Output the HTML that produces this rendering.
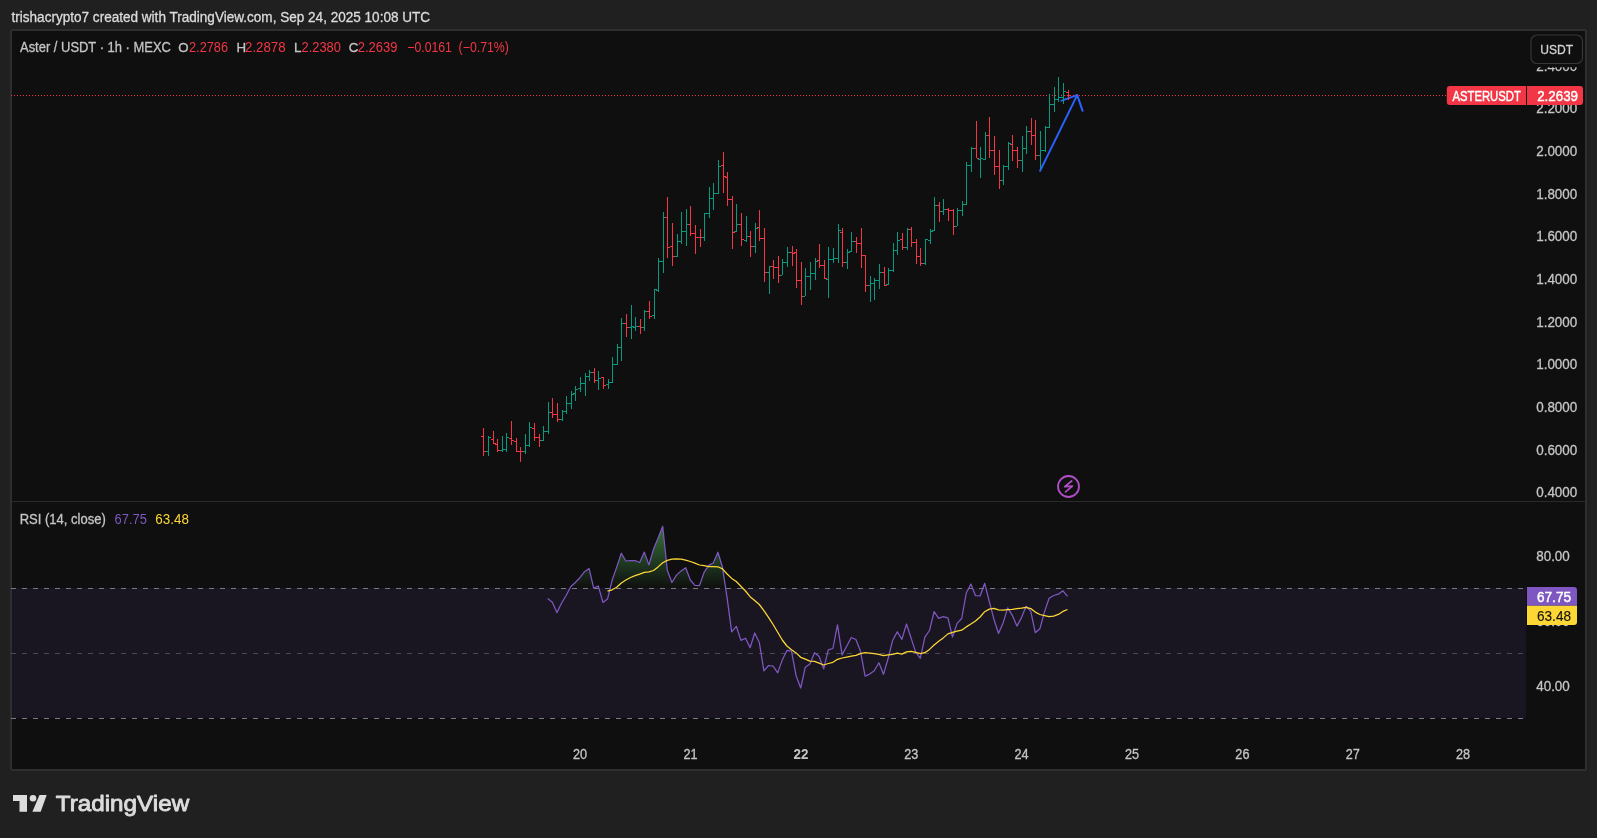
<!DOCTYPE html>
<html><head><meta charset="utf-8"><title>Aster / USDT</title>
<style>
html,body{margin:0;padding:0;background:#202020;width:1597px;height:838px;overflow:hidden}
svg{position:absolute;left:0;top:0;display:block;will-change:transform}
text{font-family:"Liberation Sans",sans-serif}
</style></head><body>
<svg width="1597" height="838" viewBox="0 0 1597 838">
<defs>
<linearGradient id="obg" gradientUnits="userSpaceOnUse" x1="0" y1="490.8" x2="0" y2="588.3">
<stop offset="0" stop-color="#4caf50" stop-opacity="1"/>
<stop offset="1" stop-color="#4caf50" stop-opacity="0"/>
</linearGradient>
<clipPath id="obclip"><polygon points="547.7,598.5 552.3,602.3 556.9,612.6 561.5,603.3 566.1,595.5 570.7,586.7 575.3,582.5 579.9,577.7 584.5,571.7 589.1,568.6 593.7,588.2 598.3,586.1 602.9,602.4 607.5,599.1 612.1,580.3 616.7,567.1 621.3,553.2 625.9,561.0 630.5,560.7 635.1,560.5 639.7,562.5 644.3,552.1 648.9,564.9 653.5,549.3 658.1,537.9 662.7,526.3 667.3,570.2 671.9,582.5 676.5,575.1 681.1,570.9 685.7,567.7 690.3,580.0 694.9,585.4 699.5,585.6 704.1,572.3 708.7,565.4 713.3,563.0 717.9,552.2 722.5,567.3 727.1,597.8 731.7,631.8 736.3,626.3 740.9,640.4 745.5,638.2 750.1,647.7 754.7,633.0 759.3,642.5 763.9,670.9 768.5,665.5 773.1,666.2 777.7,672.9 782.3,659.9 786.9,650.4 791.5,651.2 796.1,675.7 800.7,688.0 805.3,667.2 809.9,664.1 814.5,652.7 819.1,656.5 823.7,668.8 828.3,649.8 832.9,648.5 837.5,624.8 842.1,654.9 846.7,646.3 851.3,637.5 855.9,639.5 860.5,651.3 865.1,676.2 869.7,674.1 874.3,670.8 878.9,662.8 883.5,674.3 888.1,658.5 892.7,640.2 897.3,631.9 901.9,639.3 906.5,624.0 911.1,638.1 915.7,652.1 920.3,658.3 924.9,637.2 929.5,630.5 934.1,611.6 938.7,618.3 943.3,616.7 947.9,617.9 952.5,637.0 957.1,623.4 961.7,618.5 966.3,593.0 970.9,584.0 975.5,595.7 980.1,596.0 984.7,583.3 989.3,601.7 993.9,619.2 998.5,633.5 1003.1,622.9 1007.7,607.9 1012.3,615.3 1016.9,626.1 1021.5,617.6 1026.1,606.3 1030.7,611.1 1035.3,632.7 1039.9,628.7 1044.5,611.9 1049.1,598.2 1053.7,595.5 1058.3,594.2 1062.9,590.8 1067.5,596.3 1067.5,588.3 547.7,588.3"/></clipPath>
<clipPath id="above70"><rect x="12" y="480" width="1514" height="108.3"/></clipPath>
</defs>
<!-- header -->
<text x="11.50" y="21.8" font-size="14" fill="#dbdbdb" stroke="#dbdbdb" stroke-width="0.3" textLength="418.61" lengthAdjust="spacingAndGlyphs">trishacrypto7 created with TradingView.com, Sep 24, 2025 10:08 UTC</text>
<!-- frame -->
<rect x="11" y="30" width="1575" height="740" rx="1.8" ry="1.8" fill="#0f0f0f" stroke="#2e2e2e" stroke-width="2"/>
<!-- pane separator -->
<rect x="12" y="501" width="1573" height="1" fill="#2a2a2a"/>
<!-- RSI band -->
<rect x="12" y="588" width="1514" height="130" fill="#7e57c2" fill-opacity="0.1"/>
<!-- overbought gradient fill -->
<g clip-path="url(#above70)"><rect x="12" y="480" width="1514" height="110" fill="url(#obg)" clip-path="url(#obclip)"/></g>
<!-- hlines -->
<g shape-rendering="crispEdges">
<line x1="11" y1="588.5" x2="1526" y2="588.5" stroke="#787b86" stroke-width="1" stroke-dasharray="5 6"/>
<line x1="11" y1="653.5" x2="1526" y2="653.5" stroke="#787b86" stroke-opacity="0.5" stroke-width="1" stroke-dasharray="5 6"/>
<line x1="11" y1="718.5" x2="1526" y2="718.5" stroke="#787b86" stroke-width="1" stroke-dasharray="5 6"/>
</g>
<!-- RSI & MA -->
<polyline points="547.7,598.5 552.3,602.3 556.9,612.6 561.5,603.3 566.1,595.5 570.7,586.7 575.3,582.5 579.9,577.7 584.5,571.7 589.1,568.6 593.7,588.2 598.3,586.1 602.9,602.4 607.5,599.1 612.1,580.3 616.7,567.1 621.3,553.2 625.9,561.0 630.5,560.7 635.1,560.5 639.7,562.5 644.3,552.1 648.9,564.9 653.5,549.3 658.1,537.9 662.7,526.3 667.3,570.2 671.9,582.5 676.5,575.1 681.1,570.9 685.7,567.7 690.3,580.0 694.9,585.4 699.5,585.6 704.1,572.3 708.7,565.4 713.3,563.0 717.9,552.2 722.5,567.3 727.1,597.8 731.7,631.8 736.3,626.3 740.9,640.4 745.5,638.2 750.1,647.7 754.7,633.0 759.3,642.5 763.9,670.9 768.5,665.5 773.1,666.2 777.7,672.9 782.3,659.9 786.9,650.4 791.5,651.2 796.1,675.7 800.7,688.0 805.3,667.2 809.9,664.1 814.5,652.7 819.1,656.5 823.7,668.8 828.3,649.8 832.9,648.5 837.5,624.8 842.1,654.9 846.7,646.3 851.3,637.5 855.9,639.5 860.5,651.3 865.1,676.2 869.7,674.1 874.3,670.8 878.9,662.8 883.5,674.3 888.1,658.5 892.7,640.2 897.3,631.9 901.9,639.3 906.5,624.0 911.1,638.1 915.7,652.1 920.3,658.3 924.9,637.2 929.5,630.5 934.1,611.6 938.7,618.3 943.3,616.7 947.9,617.9 952.5,637.0 957.1,623.4 961.7,618.5 966.3,593.0 970.9,584.0 975.5,595.7 980.1,596.0 984.7,583.3 989.3,601.7 993.9,619.2 998.5,633.5 1003.1,622.9 1007.7,607.9 1012.3,615.3 1016.9,626.1 1021.5,617.6 1026.1,606.3 1030.7,611.1 1035.3,632.7 1039.9,628.7 1044.5,611.9 1049.1,598.2 1053.7,595.5 1058.3,594.2 1062.9,590.8 1067.5,596.3" fill="none" stroke="#7e57c2" stroke-width="1.25" stroke-linejoin="round"/>
<polyline points="607.5,591.1 612.1,589.8 616.7,587.3 621.3,583.0 625.9,580.0 630.5,577.5 635.1,575.6 639.7,574.2 644.3,572.4 648.9,571.9 653.5,570.5 658.1,566.9 662.7,562.7 667.3,560.4 671.9,559.2 676.5,558.8 681.1,559.1 685.7,560.1 690.3,561.5 694.9,563.2 699.5,565.0 704.1,565.7 708.7,566.7 713.3,566.6 717.9,566.8 722.5,568.9 727.1,574.0 731.7,578.4 736.3,581.5 740.9,586.2 745.5,591.0 750.1,596.7 754.7,600.5 759.3,604.5 763.9,610.6 768.5,617.3 773.1,624.5 777.7,632.3 782.3,640.0 786.9,646.0 791.5,649.8 796.1,652.9 800.7,657.3 805.3,659.2 809.9,661.1 814.5,661.4 819.1,663.1 823.7,665.0 828.3,663.5 832.9,662.3 837.5,659.3 842.1,658.0 846.7,657.1 851.3,656.1 855.9,655.3 860.5,653.6 865.1,652.7 869.7,653.2 874.3,653.7 878.9,654.4 883.5,655.7 888.1,654.9 892.7,654.3 897.3,653.1 901.9,654.1 906.5,651.9 911.1,651.3 915.7,652.4 920.3,653.7 924.9,652.7 929.5,649.4 934.1,645.0 938.7,641.2 943.3,637.9 947.9,633.9 952.5,632.4 957.1,631.2 961.7,630.2 966.3,626.9 970.9,624.0 975.5,621.0 980.1,617.0 984.7,611.7 989.3,609.1 993.9,608.3 998.5,609.9 1003.1,610.2 1007.7,609.6 1012.3,609.4 1016.9,608.6 1021.5,608.2 1026.1,607.3 1030.7,608.6 1035.3,612.1 1039.9,614.5 1044.5,615.6 1049.1,616.7 1053.7,616.2 1058.3,614.4 1062.9,611.4 1067.5,609.5" fill="none" stroke="#fdd835" stroke-width="1.25" stroke-linejoin="round"/>
<!-- blue arrow -->
<g fill="none" stroke="#2962ff" stroke-width="2" stroke-linecap="round" stroke-linejoin="round">
<path d="M1040.1 170.9L1077.2 95.1"/>
<path d="M1061.5 100.6L1077.2 95.1L1082.6 110.8"/>
</g>
<!-- price line -->
<line x1="11" y1="95.5" x2="1447" y2="95.5" stroke="#f23645" stroke-width="1" stroke-dasharray="1 2" shape-rendering="crispEdges"/>
<!-- bars -->
<g shape-rendering="crispEdges">
<path d="M483 428h1v28h-1zM481 436h2v1h-2zM484 451h2v1h-2z" fill="#f23645"/>
<path d="M488 436h1v20h-1zM486 451h2v1h-2zM489 437h2v1h-2z" fill="#089981"/>
<path d="M493 431h1v13h-1zM491 439h2v1h-2zM494 443h2v1h-2z" fill="#f23645"/>
<path d="M497 439h1v13h-1zM495 444h2v1h-2zM498 450h2v1h-2z" fill="#f23645"/>
<path d="M502 436h1v16h-1zM500 450h2v1h-2zM503 449h2v1h-2z" fill="#089981"/>
<path d="M506 433h1v19h-1zM504 449h2v1h-2zM507 437h2v1h-2z" fill="#089981"/>
<path d="M511 421h1v24h-1zM509 438h2v1h-2zM512 440h2v1h-2z" fill="#f23645"/>
<path d="M516 438h1v14h-1zM514 441h2v1h-2zM517 451h2v1h-2z" fill="#f23645"/>
<path d="M520 447h1v15h-1zM518 451h2v1h-2zM521 451h2v1h-2z" fill="#f23645"/>
<path d="M525 434h1v20h-1zM523 451h2v1h-2zM526 445h2v1h-2z" fill="#089981"/>
<path d="M529 422h1v25h-1zM527 445h2v1h-2zM530 427h2v1h-2z" fill="#089981"/>
<path d="M534 423h1v18h-1zM532 428h2v1h-2zM535 437h2v1h-2z" fill="#f23645"/>
<path d="M539 434h1v13h-1zM537 437h2v1h-2zM540 440h2v1h-2z" fill="#f23645"/>
<path d="M543 426h1v15h-1zM541 440h2v1h-2zM544 431h2v1h-2z" fill="#089981"/>
<path d="M548 402h1v32h-1zM546 431h2v1h-2zM549 412h2v1h-2z" fill="#089981"/>
<path d="M552 398h1v20h-1zM550 412h2v1h-2zM553 414h2v1h-2z" fill="#f23645"/>
<path d="M557 403h1v19h-1zM555 414h2v1h-2zM558 419h2v1h-2z" fill="#f23645"/>
<path d="M562 410h1v11h-1zM560 419h2v1h-2zM563 411h2v1h-2z" fill="#089981"/>
<path d="M566 396h1v18h-1zM564 411h2v1h-2zM567 403h2v1h-2z" fill="#089981"/>
<path d="M571 391h1v18h-1zM569 403h2v1h-2zM572 394h2v1h-2z" fill="#089981"/>
<path d="M575 386h1v15h-1zM573 393h2v1h-2zM576 389h2v1h-2z" fill="#089981"/>
<path d="M580 377h1v15h-1zM578 388h2v1h-2zM581 383h2v1h-2z" fill="#089981"/>
<path d="M585 373h1v23h-1zM583 383h2v1h-2zM586 376h2v1h-2z" fill="#089981"/>
<path d="M589 370h1v11h-1zM587 376h2v1h-2zM590 372h2v1h-2z" fill="#089981"/>
<path d="M594 368h1v15h-1zM592 372h2v1h-2zM595 380h2v1h-2z" fill="#f23645"/>
<path d="M598 371h1v19h-1zM596 380h2v1h-2zM599 378h2v1h-2z" fill="#089981"/>
<path d="M603 377h1v12h-1zM601 377h2v1h-2zM604 385h2v1h-2z" fill="#f23645"/>
<path d="M608 379h1v10h-1zM606 384h2v1h-2zM609 382h2v1h-2z" fill="#089981"/>
<path d="M612 357h1v26h-1zM610 382h2v1h-2zM613 364h2v1h-2z" fill="#089981"/>
<path d="M617 344h1v21h-1zM615 364h2v1h-2zM618 347h2v1h-2z" fill="#089981"/>
<path d="M621 318h1v43h-1zM619 347h2v1h-2zM622 323h2v1h-2z" fill="#089981"/>
<path d="M626 314h1v23h-1zM624 323h2v1h-2zM627 327h2v1h-2z" fill="#f23645"/>
<path d="M631 305h1v34h-1zM629 327h2v1h-2zM632 326h2v1h-2z" fill="#089981"/>
<path d="M635 317h1v14h-1zM633 327h2v1h-2zM636 326h2v1h-2z" fill="#089981"/>
<path d="M640 319h1v15h-1zM638 326h2v1h-2zM641 327h2v1h-2z" fill="#f23645"/>
<path d="M644 310h1v21h-1zM642 327h2v1h-2zM645 311h2v1h-2z" fill="#089981"/>
<path d="M649 301h1v18h-1zM647 311h2v1h-2zM650 316h2v1h-2z" fill="#f23645"/>
<path d="M654 289h1v30h-1zM652 315h2v1h-2zM655 289h2v1h-2z" fill="#089981"/>
<path d="M658 258h1v34h-1zM656 290h2v1h-2zM659 261h2v1h-2z" fill="#089981"/>
<path d="M663 212h1v61h-1zM661 261h2v1h-2zM664 217h2v1h-2z" fill="#089981"/>
<path d="M667 197h1v61h-1zM665 217h2v1h-2zM668 247h2v1h-2z" fill="#f23645"/>
<path d="M672 223h1v43h-1zM670 246h2v1h-2zM673 256h2v1h-2z" fill="#f23645"/>
<path d="M677 234h1v23h-1zM675 256h2v1h-2zM678 241h2v1h-2z" fill="#089981"/>
<path d="M681 212h1v32h-1zM679 241h2v1h-2zM682 231h2v1h-2z" fill="#089981"/>
<path d="M686 209h1v37h-1zM684 231h2v1h-2zM687 224h2v1h-2z" fill="#089981"/>
<path d="M690 206h1v30h-1zM688 224h2v1h-2zM691 233h2v1h-2z" fill="#f23645"/>
<path d="M695 225h1v29h-1zM693 233h2v1h-2zM696 237h2v1h-2z" fill="#f23645"/>
<path d="M700 229h1v18h-1zM698 237h2v1h-2zM701 237h2v1h-2z" fill="#f23645"/>
<path d="M704 213h1v28h-1zM702 237h2v1h-2zM705 213h2v1h-2z" fill="#089981"/>
<path d="M709 187h1v31h-1zM707 213h2v1h-2zM710 198h2v1h-2z" fill="#089981"/>
<path d="M713 183h1v27h-1zM711 198h2v1h-2zM714 193h2v1h-2z" fill="#089981"/>
<path d="M718 160h1v34h-1zM716 193h2v1h-2zM719 166h2v1h-2z" fill="#089981"/>
<path d="M723 152h1v41h-1zM721 165h2v1h-2zM724 176h2v1h-2z" fill="#f23645"/>
<path d="M727 172h1v34h-1zM725 177h2v1h-2zM728 199h2v1h-2z" fill="#f23645"/>
<path d="M732 196h1v53h-1zM730 199h2v1h-2zM733 232h2v1h-2z" fill="#f23645"/>
<path d="M736 204h1v28h-1zM734 231h2v1h-2zM737 224h2v1h-2z" fill="#089981"/>
<path d="M741 213h1v33h-1zM739 224h2v1h-2zM742 239h2v1h-2z" fill="#f23645"/>
<path d="M746 216h1v26h-1zM744 240h2v1h-2zM747 236h2v1h-2z" fill="#089981"/>
<path d="M750 231h1v26h-1zM748 236h2v1h-2zM751 246h2v1h-2z" fill="#f23645"/>
<path d="M755 223h1v30h-1zM753 246h2v1h-2zM756 228h2v1h-2z" fill="#089981"/>
<path d="M759 210h1v31h-1zM757 227h2v1h-2zM760 238h2v1h-2z" fill="#f23645"/>
<path d="M764 228h1v54h-1zM762 238h2v1h-2zM765 272h2v1h-2z" fill="#f23645"/>
<path d="M769 266h1v28h-1zM767 272h2v1h-2zM770 266h2v1h-2z" fill="#089981"/>
<path d="M773 260h1v19h-1zM771 266h2v1h-2zM774 267h2v1h-2z" fill="#f23645"/>
<path d="M778 256h1v27h-1zM776 267h2v1h-2zM779 275h2v1h-2z" fill="#f23645"/>
<path d="M782 259h1v16h-1zM780 275h2v1h-2zM783 262h2v1h-2z" fill="#089981"/>
<path d="M787 247h1v20h-1zM785 262h2v1h-2zM788 252h2v1h-2z" fill="#089981"/>
<path d="M792 246h1v20h-1zM790 252h2v1h-2zM793 253h2v1h-2z" fill="#f23645"/>
<path d="M796 249h1v39h-1zM794 252h2v1h-2zM797 280h2v1h-2z" fill="#f23645"/>
<path d="M801 262h1v43h-1zM799 280h2v1h-2zM802 296h2v1h-2z" fill="#f23645"/>
<path d="M805 268h1v28h-1zM803 296h2v1h-2zM806 276h2v1h-2z" fill="#089981"/>
<path d="M810 262h1v28h-1zM808 276h2v1h-2zM811 273h2v1h-2z" fill="#089981"/>
<path d="M815 258h1v22h-1zM813 273h2v1h-2zM816 261h2v1h-2z" fill="#089981"/>
<path d="M819 244h1v24h-1zM817 260h2v1h-2zM820 265h2v1h-2z" fill="#f23645"/>
<path d="M824 260h1v19h-1zM822 265h2v1h-2zM825 278h2v1h-2z" fill="#f23645"/>
<path d="M828 247h1v51h-1zM826 279h2v1h-2zM829 259h2v1h-2z" fill="#089981"/>
<path d="M833 248h1v15h-1zM831 259h2v1h-2zM834 258h2v1h-2z" fill="#089981"/>
<path d="M838 224h1v39h-1zM836 258h2v1h-2zM839 230h2v1h-2z" fill="#089981"/>
<path d="M842 228h1v39h-1zM840 232h2v1h-2zM843 262h2v1h-2z" fill="#f23645"/>
<path d="M847 249h1v20h-1zM845 262h2v1h-2zM848 252h2v1h-2z" fill="#089981"/>
<path d="M851 232h1v20h-1zM849 251h2v1h-2zM852 241h2v1h-2z" fill="#089981"/>
<path d="M856 237h1v16h-1zM854 241h2v1h-2zM857 243h2v1h-2z" fill="#f23645"/>
<path d="M861 228h1v40h-1zM859 243h2v1h-2zM862 255h2v1h-2z" fill="#f23645"/>
<path d="M865 255h1v37h-1zM863 255h2v1h-2zM866 285h2v1h-2z" fill="#f23645"/>
<path d="M870 276h1v26h-1zM868 285h2v1h-2zM871 283h2v1h-2z" fill="#089981"/>
<path d="M874 278h1v22h-1zM872 283h2v1h-2zM875 280h2v1h-2z" fill="#089981"/>
<path d="M879 264h1v25h-1zM877 280h2v1h-2zM880 272h2v1h-2z" fill="#089981"/>
<path d="M884 267h1v19h-1zM882 272h2v1h-2zM885 285h2v1h-2z" fill="#f23645"/>
<path d="M888 268h1v17h-1zM886 284h2v1h-2zM889 270h2v1h-2z" fill="#089981"/>
<path d="M893 243h1v29h-1zM891 270h2v1h-2zM894 250h2v1h-2z" fill="#089981"/>
<path d="M897 232h1v23h-1zM895 250h2v1h-2zM898 240h2v1h-2z" fill="#089981"/>
<path d="M902 233h1v17h-1zM900 239h2v1h-2zM903 247h2v1h-2z" fill="#f23645"/>
<path d="M907 228h1v22h-1zM905 247h2v1h-2zM908 229h2v1h-2z" fill="#089981"/>
<path d="M911 227h1v20h-1zM909 229h2v1h-2zM912 242h2v1h-2z" fill="#f23645"/>
<path d="M916 239h1v25h-1zM914 242h2v1h-2zM917 256h2v1h-2z" fill="#f23645"/>
<path d="M920 248h1v18h-1zM918 256h2v1h-2zM921 263h2v1h-2z" fill="#f23645"/>
<path d="M925 239h1v26h-1zM923 263h2v1h-2zM926 239h2v1h-2z" fill="#089981"/>
<path d="M930 229h1v15h-1zM928 240h2v1h-2zM931 231h2v1h-2z" fill="#089981"/>
<path d="M934 197h1v34h-1zM932 230h2v1h-2zM935 205h2v1h-2z" fill="#089981"/>
<path d="M939 202h1v20h-1zM937 205h2v1h-2zM940 211h2v1h-2z" fill="#f23645"/>
<path d="M943 199h1v16h-1zM941 211h2v1h-2zM944 209h2v1h-2z" fill="#089981"/>
<path d="M948 208h1v13h-1zM946 209h2v1h-2zM949 210h2v1h-2z" fill="#f23645"/>
<path d="M953 209h1v26h-1zM951 210h2v1h-2zM954 226h2v1h-2z" fill="#f23645"/>
<path d="M957 208h1v18h-1zM955 226h2v1h-2zM958 210h2v1h-2z" fill="#089981"/>
<path d="M962 201h1v15h-1zM960 210h2v1h-2zM963 204h2v1h-2z" fill="#089981"/>
<path d="M966 162h1v43h-1zM964 204h2v1h-2zM967 165h2v1h-2z" fill="#089981"/>
<path d="M971 147h1v25h-1zM969 165h2v1h-2zM972 148h2v1h-2z" fill="#089981"/>
<path d="M976 121h1v37h-1zM974 148h2v1h-2zM977 158h2v1h-2z" fill="#f23645"/>
<path d="M980 147h1v31h-1zM978 159h2v1h-2zM981 158h2v1h-2z" fill="#089981"/>
<path d="M985 132h1v28h-1zM983 159h2v1h-2zM986 135h2v1h-2z" fill="#089981"/>
<path d="M989 117h1v41h-1zM987 135h2v1h-2zM990 150h2v1h-2z" fill="#f23645"/>
<path d="M994 136h1v39h-1zM992 150h2v1h-2zM995 166h2v1h-2z" fill="#f23645"/>
<path d="M999 150h1v39h-1zM997 166h2v1h-2zM1000 180h2v1h-2z" fill="#f23645"/>
<path d="M1003 165h1v20h-1zM1001 180h2v1h-2zM1004 166h2v1h-2z" fill="#089981"/>
<path d="M1008 142h1v28h-1zM1006 166h2v1h-2zM1009 143h2v1h-2z" fill="#089981"/>
<path d="M1012 135h1v26h-1zM1010 144h2v1h-2zM1013 150h2v1h-2z" fill="#f23645"/>
<path d="M1017 147h1v21h-1zM1015 150h2v1h-2zM1018 160h2v1h-2z" fill="#f23645"/>
<path d="M1022 136h1v36h-1zM1020 160h2v1h-2zM1023 148h2v1h-2z" fill="#089981"/>
<path d="M1026 126h1v28h-1zM1024 148h2v1h-2zM1027 131h2v1h-2z" fill="#089981"/>
<path d="M1031 118h1v27h-1zM1029 131h2v1h-2zM1032 135h2v1h-2z" fill="#f23645"/>
<path d="M1035 120h1v40h-1zM1033 135h2v1h-2zM1036 155h2v1h-2z" fill="#f23645"/>
<path d="M1040 131h1v38h-1zM1038 155h2v1h-2zM1041 150h2v1h-2z" fill="#089981"/>
<path d="M1045 126h1v26h-1zM1043 150h2v1h-2zM1046 127h2v1h-2z" fill="#089981"/>
<path d="M1049 94h1v34h-1zM1047 127h2v1h-2zM1050 104h2v1h-2z" fill="#089981"/>
<path d="M1054 87h1v25h-1zM1052 104h2v1h-2zM1055 99h2v1h-2z" fill="#089981"/>
<path d="M1058 77h1v25h-1zM1056 99h2v1h-2zM1059 97h2v1h-2z" fill="#089981"/>
<path d="M1063 83h1v21h-1zM1061 97h2v1h-2zM1064 91h2v1h-2z" fill="#089981"/>
<path d="M1068 90h1v10h-1zM1066 92h2v1h-2zM1069 95h2v1h-2z" fill="#f23645"/>
</g>
<!-- lightning icon -->
<circle cx="1068.5" cy="486.5" r="10.5" fill="none" stroke="#b24ec8" stroke-width="1.8"/>
<path d="M1071.7 481L1064.7 486.6L1072.4 486.1L1065.5 491.8" fill="none" stroke="#b24ec8" stroke-width="1.7" stroke-linejoin="round" stroke-linecap="round"/>
<!-- legend -->
<text x="20.00" y="52" font-size="14" fill="#c4c4c4" stroke="#c4c4c4" stroke-width="0.3" textLength="150.90" lengthAdjust="spacingAndGlyphs">Aster / USDT · 1h · MEXC</text>
<text x="178.20" y="52" font-size="13.3" fill="#c4c4c4" stroke="#c4c4c4" stroke-width="0.3">O</text>
<text x="236.40" y="52" font-size="13.3" fill="#c4c4c4" stroke="#c4c4c4" stroke-width="0.3">H</text>
<text x="293.90" y="52" font-size="13.3" fill="#c4c4c4" stroke="#c4c4c4" stroke-width="0.3">L</text>
<text x="348.80" y="52" font-size="13.3" fill="#c4c4c4" stroke="#c4c4c4" stroke-width="0.3">C</text>
<text x="189.00" y="52" font-size="14" fill="#f23645" textLength="39.01" lengthAdjust="spacingAndGlyphs">2.2786</text>
<text x="245.10" y="52" font-size="14" fill="#f23645" textLength="40.40" lengthAdjust="spacingAndGlyphs">2.2878</text>
<text x="301.50" y="52" font-size="14" fill="#f23645" textLength="39.40" lengthAdjust="spacingAndGlyphs">2.2380</text>
<text x="357.70" y="52" font-size="14" fill="#f23645" textLength="39.70" lengthAdjust="spacingAndGlyphs">2.2639</text>
<text x="407.30" y="52" font-size="14" fill="#f23645" textLength="44.61" lengthAdjust="spacingAndGlyphs">−0.0161</text>
<text x="458.60" y="52" font-size="14" fill="#f23645" textLength="50.28" lengthAdjust="spacingAndGlyphs">(−0.71%)</text>
<text x="19.67" y="524" font-size="14" fill="#c4c4c4" stroke="#c4c4c4" stroke-width="0.3" textLength="86.15" lengthAdjust="spacingAndGlyphs">RSI (14, close)</text>
<text x="114.60" y="524" font-size="14" fill="#7e57c2" textLength="32.30" lengthAdjust="spacingAndGlyphs">67.75</text>
<text x="155.30" y="524" font-size="14" fill="#fdd835" textLength="33.59" lengthAdjust="spacingAndGlyphs">63.48</text>
<!-- price axis -->
<text x="1536.20" y="70.7" font-size="14" fill="#c4c4c4" stroke="#c4c4c4" stroke-width="0.3" textLength="41.09" lengthAdjust="spacingAndGlyphs">2.4000</text>
<text x="1536.20" y="113.3" font-size="14" fill="#c4c4c4" stroke="#c4c4c4" stroke-width="0.3" textLength="41.09" lengthAdjust="spacingAndGlyphs">2.2000</text>
<text x="1536.20" y="156.0" font-size="14" fill="#c4c4c4" stroke="#c4c4c4" stroke-width="0.3" textLength="41.09" lengthAdjust="spacingAndGlyphs">2.0000</text>
<text x="1536.20" y="198.7" font-size="14" fill="#c4c4c4" stroke="#c4c4c4" stroke-width="0.3" textLength="41.09" lengthAdjust="spacingAndGlyphs">1.8000</text>
<text x="1536.20" y="241.3" font-size="14" fill="#c4c4c4" stroke="#c4c4c4" stroke-width="0.3" textLength="41.09" lengthAdjust="spacingAndGlyphs">1.6000</text>
<text x="1536.20" y="284.0" font-size="14" fill="#c4c4c4" stroke="#c4c4c4" stroke-width="0.3" textLength="41.09" lengthAdjust="spacingAndGlyphs">1.4000</text>
<text x="1536.20" y="326.7" font-size="14" fill="#c4c4c4" stroke="#c4c4c4" stroke-width="0.3" textLength="41.09" lengthAdjust="spacingAndGlyphs">1.2000</text>
<text x="1536.20" y="369.3" font-size="14" fill="#c4c4c4" stroke="#c4c4c4" stroke-width="0.3" textLength="41.09" lengthAdjust="spacingAndGlyphs">1.0000</text>
<text x="1536.20" y="412.0" font-size="14" fill="#c4c4c4" stroke="#c4c4c4" stroke-width="0.3" textLength="41.09" lengthAdjust="spacingAndGlyphs">0.8000</text>
<text x="1536.20" y="454.7" font-size="14" fill="#c4c4c4" stroke="#c4c4c4" stroke-width="0.3" textLength="41.09" lengthAdjust="spacingAndGlyphs">0.6000</text>
<text x="1536.20" y="497.3" font-size="14" fill="#c4c4c4" stroke="#c4c4c4" stroke-width="0.3" textLength="41.09" lengthAdjust="spacingAndGlyphs">0.4000</text>
<text x="1536.20" y="560.8" font-size="14" fill="#c4c4c4" stroke="#c4c4c4" stroke-width="0.3" textLength="33.62" lengthAdjust="spacingAndGlyphs">80.00</text>
<text x="1536.20" y="625.8" font-size="14" fill="#c4c4c4" stroke="#c4c4c4" stroke-width="0.3" textLength="33.62" lengthAdjust="spacingAndGlyphs">60.00</text>
<text x="1536.20" y="690.8" font-size="14" fill="#c4c4c4" stroke="#c4c4c4" stroke-width="0.3" textLength="33.62" lengthAdjust="spacingAndGlyphs">40.00</text>
<!-- USDT button -->
<rect x="1529" y="32" width="56" height="35.3" fill="#0f0f0f"/>
<rect x="1531" y="35" width="51.5" height="28.5" rx="6" ry="6" fill="#0f0f0f" stroke="#363636" stroke-width="1.2"/>
<text x="1540.30" y="54" font-size="13.5" fill="#d1d1d1" stroke="#d1d1d1" stroke-width="0.3" textLength="32.92" lengthAdjust="spacingAndGlyphs">USDT</text>
<!-- price labels -->
<path d="M1449.8 86H1526V105H1449.8A3 3 0 0 1 1446.8 102V89A3 3 0 0 1 1449.8 86Z" fill="#f23645"/>
<path d="M1527 86H1580A3 3 0 0 1 1583 89V102A3 3 0 0 1 1580 105H1527Z" fill="#f23645"/>
<text x="1452.50" y="101" font-size="14.5" fill="#ffffff" textLength="68.31" lengthAdjust="spacingAndGlyphs" stroke="#ffffff" stroke-width="0.45">ASTERUSDT</text>
<text x="1537.20" y="101.2" font-size="14.5" fill="#ffffff" textLength="40.80" lengthAdjust="spacingAndGlyphs" stroke="#ffffff" stroke-width="0.45">2.2639</text>
<path d="M1527 587H1574A3 3 0 0 1 1577 590V605.7H1527Z" fill="#7e57c2"/>
<path d="M1527 605.7H1577V622A3 3 0 0 1 1574 625H1527Z" fill="#fdd835"/>
<text x="1537.00" y="602" font-size="14.5" fill="#ffffff" textLength="33.99" lengthAdjust="spacingAndGlyphs" stroke="#ffffff" stroke-width="0.45">67.75</text>
<text x="1537.00" y="621.4" font-size="14.5" fill="#131313" textLength="33.99" lengthAdjust="spacingAndGlyphs" stroke="#131313" stroke-width="0.15">63.48</text>
<!-- time axis -->
<text x="580.10" y="759" font-size="14" fill="#c4c4c4" stroke="#c4c4c4" stroke-width="0.3" text-anchor="middle" textLength="14.11" lengthAdjust="spacingAndGlyphs">20</text>
<text x="690.50" y="759" font-size="14" fill="#c4c4c4" stroke="#c4c4c4" stroke-width="0.3" text-anchor="middle" textLength="14.11" lengthAdjust="spacingAndGlyphs">21</text>
<text x="800.90" y="759" font-size="14" fill="#c4c4c4" text-anchor="middle" font-weight="bold" textLength="14.96" lengthAdjust="spacingAndGlyphs">22</text>
<text x="911.20" y="759" font-size="14" fill="#c4c4c4" stroke="#c4c4c4" stroke-width="0.3" text-anchor="middle" textLength="14.11" lengthAdjust="spacingAndGlyphs">23</text>
<text x="1021.60" y="759" font-size="14" fill="#c4c4c4" stroke="#c4c4c4" stroke-width="0.3" text-anchor="middle" textLength="14.11" lengthAdjust="spacingAndGlyphs">24</text>
<text x="1132.00" y="759" font-size="14" fill="#c4c4c4" stroke="#c4c4c4" stroke-width="0.3" text-anchor="middle" textLength="14.11" lengthAdjust="spacingAndGlyphs">25</text>
<text x="1242.40" y="759" font-size="14" fill="#c4c4c4" stroke="#c4c4c4" stroke-width="0.3" text-anchor="middle" textLength="14.11" lengthAdjust="spacingAndGlyphs">26</text>
<text x="1352.70" y="759" font-size="14" fill="#c4c4c4" stroke="#c4c4c4" stroke-width="0.3" text-anchor="middle" textLength="14.11" lengthAdjust="spacingAndGlyphs">27</text>
<text x="1463.10" y="759" font-size="14" fill="#c4c4c4" stroke="#c4c4c4" stroke-width="0.3" text-anchor="middle" textLength="14.11" lengthAdjust="spacingAndGlyphs">28</text>
<!-- footer logo -->
<g fill="#dcdcdc">
<path d="M13 795.1H27V811.8H19.5V801.1H13Z"/>
<circle cx="33" cy="798.2" r="3.3"/>
<path d="M39.5 795.1H46.7L40.7 811.8H32.4Z"/>
<text x="55.80" y="811.4" font-size="22.6" fill="#dcdcdc" textLength="133.37" lengthAdjust="spacingAndGlyphs" stroke="#dcdcdc" stroke-width="0.9" stroke-linejoin="round">TradingView</text>
</g>
</svg>
</body></html>
